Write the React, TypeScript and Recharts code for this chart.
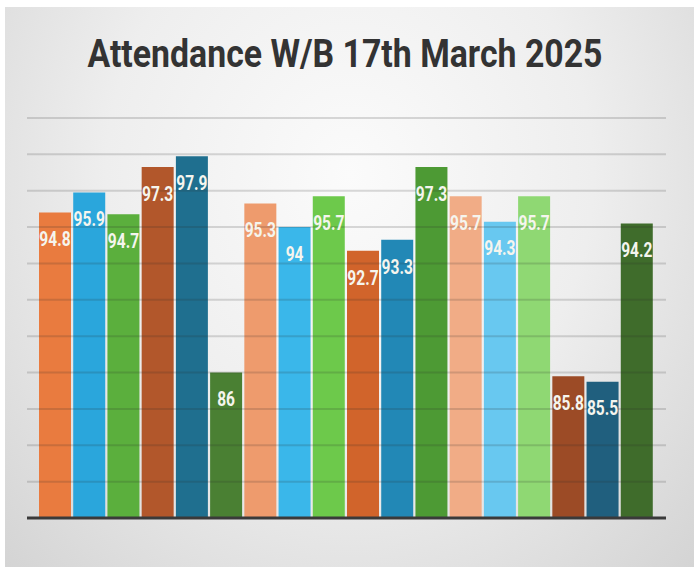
import { BarChart, Bar, XAxis, YAxis, Cell, LabelList, ReferenceLine } from "recharts";

// 18 bars, six groups of three (no axis labels shown on the original)
const categories = [
  "G1 A", "G1 B", "G1 C",
  "G2 A", "G2 B", "G2 C",
  "G3 A", "G3 B", "G3 C",
  "G4 A", "G4 B", "G4 C",
  "G5 A", "G5 B", "G5 C",
  "G6 A", "G6 B", "G6 C",
];

const attendance = [
  94.8, 95.9, 94.7, 97.3, 97.9, 86,
  95.3, 94, 95.7, 92.7, 93.3, 97.3,
  95.7, 94.3, 95.7, 85.8, 85.5, 94.2,
];

const barColors = [
  "#E97B3F", "#2AA6DC", "#5BAF3D",
  "#B2572B", "#1F6F8F", "#4A8033",
  "#EE9B6D", "#3AB7EA", "#6DC94B",
  "#D1642B", "#2288B6", "#4D9A34",
  "#F1AC86", "#68C8F0", "#8FD873",
  "#9C4B26", "#205F7E", "#3F6C2B",
];

const gridTicks = [80, 82, 84, 86, 88, 90, 92, 94, 96, 98, 100];

const data = categories.map((name, i) => ({ name, attendance: attendance[i] }));

// no condensed font installed, so squeeze Roboto horizontally
const fontStack = "Roboto, sans-serif";

function BarValueLabel(props: any) {
  const { x, y, width, value } = props;
  return (
    <text
      transform={`translate(${x + width / 2}, ${y + 27}) scale(0.74, 1)`}
      textAnchor="middle"
      dominantBaseline="central"
      fill="#F5F5EE"
      fontSize={21}
      fontWeight={700}
      fontFamily={fontStack}
    >
      {value}
    </text>
  );
}

export default function App() {
  return (
    <div style={{ position: "absolute", left: 0, top: 0, width: 694, height: 567, background: "#fff" }}>
      <div
        style={{
          position: "absolute",
          left: 5,
          top: 7,
          width: 689,
          height: 560,
          background: "radial-gradient(ellipse at 50% 30%, #fbfbfb 0%, #eeeeee 50%, #d4d4d4 100%)",
        }}
      />
      <div
        style={{
          position: "absolute",
          left: 0,
          top: 31,
          width: 690,
          textAlign: "center",
          fontFamily: fontStack,
          fontSize: 38,
          fontWeight: 700,
          color: "#333",
          lineHeight: "46px",
          transform: "scaleX(0.89)",
          transformOrigin: "50% 0",
          whiteSpace: "nowrap",
        }}
      >
        Attendance W/B 17th March 2025
      </div>
      <div style={{ position: "absolute", left: 0, top: 0 }}>
        <BarChart
          width={694}
          height={567}
          data={data}
          margin={{ top: 118, right: 28, bottom: 47, left: 27 }}
          barCategoryGap={1}
        >
          <XAxis
            dataKey="name"
            height={2}
            tick={false}
            tickLine={false}
            padding={{ left: 11, right: 12 }}
            axisLine={{ stroke: "#3a3a3a", strokeWidth: 3 }}
          />
          <YAxis hide type="number" domain={[78, 100]} ticks={[78, ...gridTicks]} />
          <Bar dataKey="attendance" isAnimationActive={false}>
            {data.map((d, i) => (
              <Cell key={d.name} fill={barColors[i]} />
            ))}
            <LabelList dataKey="attendance" content={BarValueLabel} />
          </Bar>
          {gridTicks.map((t) => (
            <ReferenceLine key={t} y={t} stroke="rgba(40,40,40,0.17)" strokeWidth={2} />
          ))}
        </BarChart>
      </div>
    </div>
  );
}
